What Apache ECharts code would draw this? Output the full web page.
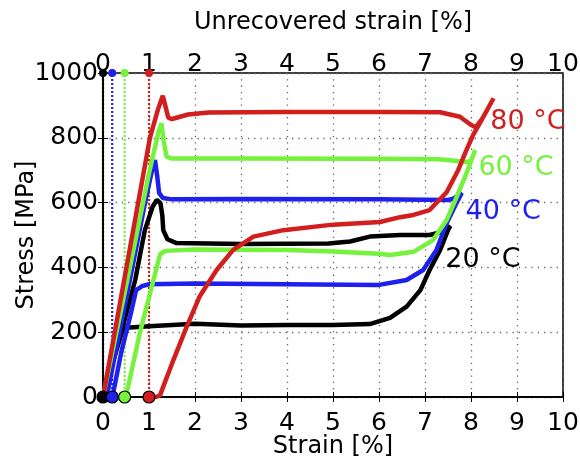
<!DOCTYPE html>
<html>
<head>
<meta charset="utf-8">
<script src="https://cdn.jsdelivr.net/npm/echarts@6/dist/echarts.min.js"></script>
<style>
html, body { margin: 0; padding: 0; background: #fff; }
#main { width: 580px; height: 463px; }
</style>
</head>
<body>
<div id="main"></div>
<script>
// strain [%], stress [MPa]
var strainTicks = [0, 1, 2, 3, 4, 5, 6, 7, 8, 9, 10];
var stressTicks = [0, 200, 400, 600, 800, 1000];

var temps = ['20 °C', '40 °C', '60 °C', '80 °C'];
var colors = ['#000000', '#1f1fee', '#74f23c', '#d11f1f'];

var curve20 = [
  [0, 0], [0.4, 200], [0.7, 361], [0.91, 515], [1.08, 588], [1.17, 608], [1.25, 598],
  [1.29, 560], [1.31, 515], [1.4, 487], [1.6, 475], [3, 472], [4.9, 474], [5.37, 480],
  [5.8, 495], [6.46, 500], [7.1, 500], [7.39, 510], [7.55, 528],
  [7.5, 515], [7.33, 454], [7.1, 392], [6.9, 330], [6.6, 279], [6.24, 244], [5.8, 225],
  [5, 222], [4, 222], [3, 221], [2, 226], [1, 218], [0.5, 214], [0.42, 205], [0.2, 100], [0, 0]
];
var curve40 = [
  [0.08, 0], [0.5, 300], [0.9, 590], [1.05, 690], [1.13, 731], [1.18, 680], [1.22, 630],
  [1.3, 614], [1.5, 610], [3, 611], [6, 610], [7.5, 608], [7.62, 612], [7.8, 630],
  [7.69, 600], [7.47, 536], [7.25, 454], [6.96, 392], [6.6, 361], [6.0, 346], [4, 348],
  [2, 350], [1, 348], [0.85, 342], [0.72, 330], [0.6, 255], [0.4, 140], [0.22, 11], [0.2, 0]
];
var curve60 = [
  [0, 0], [0.6, 410], [1.0, 690], [1.2, 815], [1.27, 845], [1.32, 790], [1.38, 742],
  [1.5, 736], [3, 736], [6, 735], [7.3, 734], [7.6, 730], [7.85, 725], [8.0, 728], [8.09, 762],
  [7.9, 690], [7.69, 618], [7.47, 546], [7.18, 485], [6.75, 448], [6.24, 438], [6, 442],
  [5, 449], [4, 454], [2, 455], [1.35, 451], [1.24, 440], [1.0, 307], [0.8, 197],
  [0.52, 15], [0.47, 0]
];
var curve80 = [
  [0, 0], [0.51, 400], [1.02, 800], [1.2, 890], [1.3, 930], [1.33, 935], [1.37, 890],
  [1.42, 862], [1.5, 858], [1.85, 872], [2.3, 878], [4, 880], [6, 880], [7.33, 879],
  [7.76, 865], [7.98, 842], [8.1, 832], [8.25, 860], [8.49, 922],
  [8.25, 860], [8.05, 810], [7.9, 762], [7.72, 700], [7.47, 632], [7.1, 577], [6.75, 562],
  [6.46, 555], [6.02, 540], [5, 532], [3.92, 515], [3.27, 495], [2.83, 454], [2.47, 392],
  [2.1, 310], [1.82, 217], [1.53, 114], [1.31, 32], [1.24, 5], [1.15, 0], [1.0, 0]
];
var curves = [curve20, curve40, curve60, curve80];

var unrecovered = [0, 0.2, 0.47, 1.0];
var labelPos = [[7.43, 423], [7.87, 571], [8.15, 707], [8.41, 850]];

var font = 'DejaVu Sans';
var series = [];

// dotted verticals at the unrecovered strain
for (var i = 0; i < temps.length; i++) {
  series.push({
    type: 'line',
    silent: true,
    showSymbol: false,
    data: [[unrecovered[i], 0], [unrecovered[i], 1000]],
    lineStyle: { color: colors[i], width: 2.2, type: [2, 2] },
    z: 2
  });
}
// the loops
for (var i = 0; i < temps.length; i++) {
  series.push({
    name: temps[i],
    type: 'line',
    showSymbol: false,
    data: curves[i],
    lineStyle: { color: colors[i], width: 4.5 },
    z: 3
  });
}
// markers on top and bottom axes + temperature labels
for (var i = 0; i < temps.length; i++) {
  series.push({
    type: 'scatter',
    symbolSize: 8,
    clip: false,
    data: [[unrecovered[i], 1000]],
    itemStyle: { color: colors[i], opacity: 1 },
    z: 5
  });
  series.push({
    type: 'scatter',
    symbolSize: 12,
    clip: false,
    data: [[unrecovered[i], 0]],
    itemStyle: { color: colors[i], borderColor: '#000', borderWidth: 1.2, opacity: 1 },
    z: 6
  });
  series.push({
    type: 'scatter',
    symbolSize: 1,
    clip: false,
    silent: true,
    data: [labelPos[i]],
    itemStyle: { opacity: 0 },
    label: {
      show: true,
      position: 'right',
      distance: 0,
      opacity: 1,
      formatter: temps[i],
      color: colors[i],
      textBorderWidth: 0,
      fontFamily: font,
      fontSize: 27
    },
    z: 7
  });
}

var axisLine = { show: true, lineStyle: { color: '#000', width: 1.5 } };
var tick = { show: true, inside: true, length: 5, lineStyle: { color: '#000', width: 1 } };
var grid = { show: true, lineStyle: { color: '#666', width: 1.3, type: [1.3, 5] } };
var nameFont = '24px "DejaVu Sans"';

var option = {
  animation: false,
  backgroundColor: '#fff',
  grid: { left: 103, right: 17, top: 73, bottom: 66, outerBoundsMode: 'none',
    show: true, borderColor: '#000', borderWidth: 1.5 },
  // axis titles
  graphic: [
    { type: 'text', x: 333, y: 23, style: { text: 'Unrecovered strain [%]', font: nameFont, fill: '#000', align: 'center', verticalAlign: 'middle' } },
    { type: 'text', x: 333, y: 447, style: { text: 'Strain [%]', font: nameFont, fill: '#000', align: 'center', verticalAlign: 'middle' } },
    { type: 'text', x: 27, y: 235, rotation: Math.PI / 2, style: { text: 'Stress [MPa]', font: nameFont, fill: '#000', align: 'center', verticalAlign: 'middle' } }
  ],
  xAxis: [
    {
      type: 'value', position: 'bottom', min: 0, max: 10, interval: 1,
      axisLine: axisLine, axisTick: tick, splitLine: grid,
      axisLabel: { fontFamily: font, fontSize: 25, color: '#000', margin: 14,
        formatter: function (v) { return strainTicks.indexOf(v) >= 0 ? String(v) : ''; } }
    },
    {
      type: 'value', position: 'top', min: 0, max: 10, interval: 1,
      axisLine: axisLine, axisTick: tick, splitLine: { show: false },
      axisLabel: { fontFamily: font, fontSize: 25, color: '#000', margin: -4 }
    }
  ],
  yAxis: [
    {
      type: 'value', position: 'left', min: 0, max: 1000, interval: 200,
      axisLine: axisLine, axisTick: tick, splitLine: grid,
      axisLabel: { fontFamily: font, fontSize: 25, color: '#000', margin: 5,
        formatter: function (v) { return stressTicks.indexOf(v) >= 0 ? String(v) : ''; } }
    },
    {
      type: 'value', position: 'right', min: 0, max: 1000, interval: 200,
      axisLine: axisLine, axisTick: tick, splitLine: { show: false },
      axisLabel: { show: false }
    }
  ],
  series: series
};

var myChart = echarts.init(document.getElementById('main'));
myChart.setOption(option);
</script>
</body>
</html>
